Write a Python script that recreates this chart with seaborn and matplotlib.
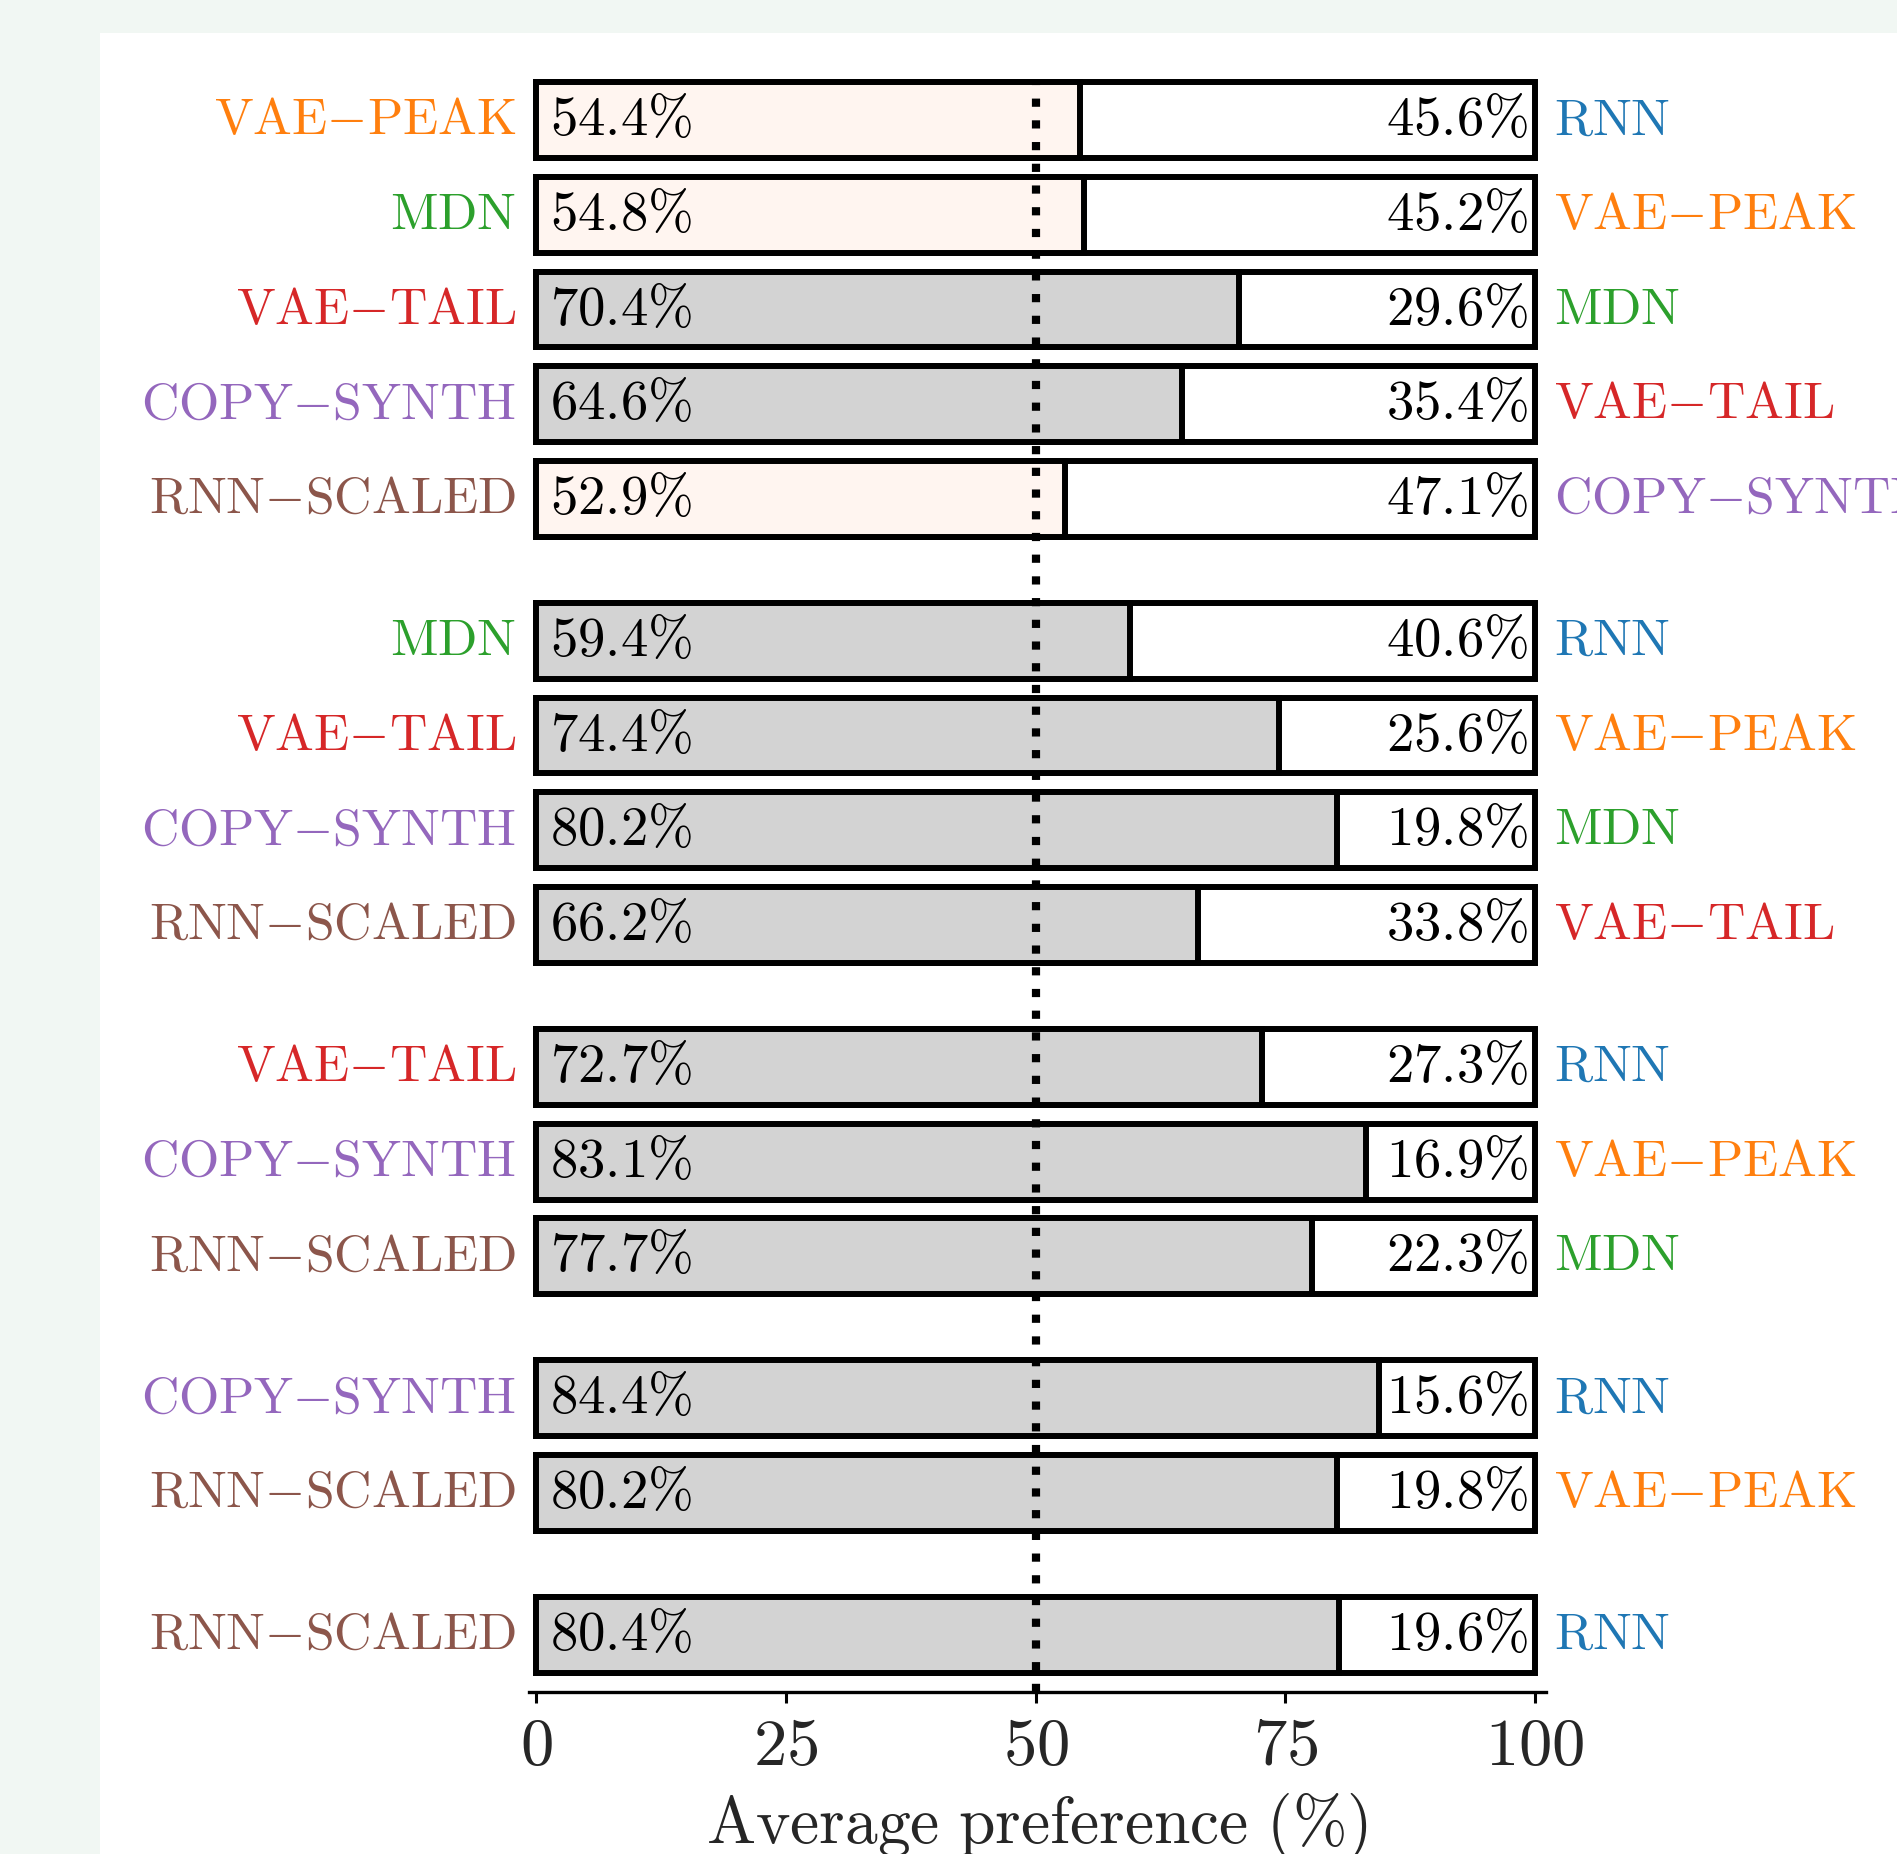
import numpy as np
import pandas as pd
import matplotlib
matplotlib.use("Agg")
import matplotlib.pyplot as plt
from matplotlib.patches import Rectangle
import seaborn as sns

# ---------------- data ----------------
left_models = ["VAE-PEAK", "MDN", "VAE-TAIL", "COPY-SYNTH", "RNN-SCALED",
               "MDN", "VAE-TAIL", "COPY-SYNTH", "RNN-SCALED",
               "VAE-TAIL", "COPY-SYNTH", "RNN-SCALED",
               "COPY-SYNTH", "RNN-SCALED",
               "RNN-SCALED"]
right_models = ["RNN", "VAE-PEAK", "MDN", "VAE-TAIL", "COPY-SYNTH",
                "RNN", "VAE-PEAK", "MDN", "VAE-TAIL",
                "RNN", "VAE-PEAK", "MDN",
                "RNN", "VAE-PEAK",
                "RNN"]
left_pct = [54.4, 54.8, 70.4, 64.6, 52.9,
            59.4, 74.4, 80.2, 66.2,
            72.7, 83.1, 77.7,
            84.4, 80.2,
            80.4]
right_pct = [45.6, 45.2, 29.6, 35.4, 47.1,
             40.6, 25.6, 19.8, 33.8,
             27.3, 16.9, 22.3,
             15.6, 19.8,
             19.6]
significant = [False, False, True, True, False,
               True, True, True, True,
               True, True, True,
               True, True,
               True]
group = [1, 1, 1, 1, 1, 2, 2, 2, 2, 3, 3, 3, 4, 4, 5]
model_colors = {"RNN": "#1f77b4", "VAE-PEAK": "#ff7f0e", "MDN": "#2ca02c",
                "VAE-TAIL": "#d62728", "COPY-SYNTH": "#9467bd",
                "RNN-SCALED": "#8c564b"}
xticks = [0, 25, 50, 75, 100]
xlabel = "Average preference (%)"

# ---------------- style ----------------
sns.set_style("ticks")
plt.rcParams["mathtext.fontset"] = "cm"
plt.rcParams["font.family"] = ["DejaVu Sans"]


def m(s):
    s = s.replace("-", "{-}").replace("%", r"\%").replace(" ", r"\ ")
    return r"$\mathrm{" + s + "}$"


W, H = 1897, 1854
bg = "#f1f7f3"
fig = plt.figure(figsize=(W / 100, H / 100), dpi=100, facecolor=bg)
fig.patches.append(Rectangle((100 / W, 0), 1 - 100 / W, (H - 33) / H,
                             transform=fig.transFigure, facecolor="white",
                             edgecolor="none", zorder=-10))

ax = fig.add_axes([528.5 / W, (H - 1691.8) / H, 1017.5 / W, (1691.8 - 82.4) / H])
ax.set_facecolor("none")

pos = [i + 0.5 * (g - 1) for i, g in enumerate(group)]
df = pd.DataFrame({
    "pos": pos,
    "left": left_pct,
    "total": np.array(left_pct) + np.array(right_pct),
    "kind": np.where(significant, "sig", "ns"),
})

lw = 4.3
sns.barplot(data=df, x="total", y="pos", orient="h", native_scale=True,
            color="white", saturation=1, edgecolor="black", linewidth=lw,
            width=0.8, errorbar=None, ax=ax)
sns.barplot(data=df, x="left", y="pos", hue="kind",
            palette={"sig": "#d3d3d3", "ns": "#fff5f0"}, orient="h",
            native_scale=True, dodge=False, legend=False, saturation=1,
            edgecolor="black", linewidth=lw, width=0.8, errorbar=None, ax=ax)
for p in ax.patches:
    p.set_clip_on(False)

ax.axvline(50, color="black", linestyle=":", linewidth=5.9, zorder=3)

ax.set_xlim(-0.8, 101.1)
ax.set_ylim(16.6, -0.4)

for y, lm, rmod, lp, rp in zip(pos, left_models, right_models, left_pct, right_pct):
    ax.text(-2.0, y, m(lm), color=model_colors[lm], ha="right", va="center",
            fontsize=37.3)
    ax.text(101.95, y, m(rmod), color=model_colors[rmod], ha="left",
            va="center", fontsize=37.3)
    ax.text(1.4, y, m(f"{lp:.1f}%"), color="black", ha="left", va="center",
            fontsize=39.5, zorder=4)
    ax.text(99.3, y, m(f"{rp:.1f}%"), color="black", ha="right", va="center",
            fontsize=39.5, zorder=4)

ax.set_xticks(xticks)
ax.set_xticklabels([f"${t}$" for t in xticks], fontsize=48)
ax.tick_params(axis="x", length=8, width=2.2, pad=7, color="black")
ax.set_yticks([])
ax.set_ylabel("")
ax.set_xlabel(m(xlabel), fontsize=47.2, labelpad=9)
sns.despine(ax=ax, left=True)
ax.spines["bottom"].set_linewidth(2.4)
ax.spines["bottom"].set_color("black")

fig.savefig("out.png", dpi=100, facecolor=fig.get_facecolor())
